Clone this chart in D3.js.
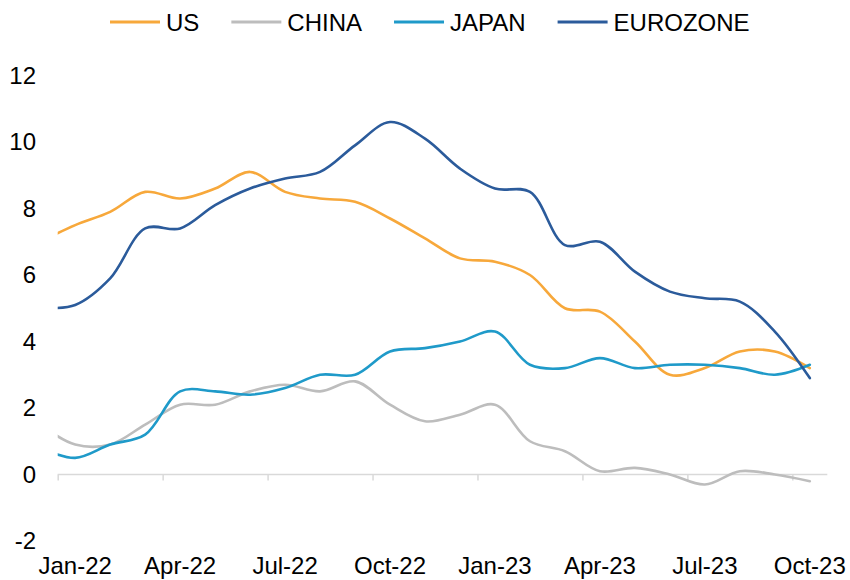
<!DOCTYPE html>
<html>
<head>
<meta charset="utf-8">
<script src="https://cdn.jsdelivr.net/npm/d3@7"></script>
<style>
  html, body { margin: 0; padding: 0; background: #fff; }
  svg { display: block; font-family: "Liberation Sans", Arial, sans-serif; }
</style>
</head>
<body>
<svg id="chart" width="850" height="580"></svg>
<script>
// Months (Dec-21 lies just outside the left edge of the plot and is clipped)
const months = ["Dec-21","Jan-22","Feb-22","Mar-22","Apr-22","May-22","Jun-22","Jul-22","Aug-22","Sep-22","Oct-22","Nov-22","Dec-22",
                "Jan-23","Feb-23","Mar-23","Apr-23","May-23","Jun-23","Jul-23","Aug-23","Sep-23","Oct-23"];
const tickLabels = ["Jan-22","Apr-22","Jul-22","Oct-22","Jan-23","Apr-23","Jul-23","Oct-23"];
const yTicks = [-2, 0, 2, 4, 6, 8, 10, 12];

const seriesNames = ["US", "CHINA", "JAPAN", "EUROZONE"];
const us       = [7.0, 7.5, 7.9, 8.5, 8.3, 8.6, 9.1, 8.5, 8.3, 8.2, 7.7, 7.1, 6.5, 6.4, 6.0, 5.0, 4.9, 4.0, 3.0, 3.2, 3.7, 3.7, 3.2];
const china    = [1.5, 0.9, 0.9, 1.5, 2.1, 2.1, 2.5, 2.7, 2.5, 2.8, 2.1, 1.6, 1.8, 2.1, 1.0, 0.7, 0.1, 0.2, 0.0, -0.3, 0.1, 0.0, -0.2];
const japan    = [0.8, 0.5, 0.9, 1.2, 2.5, 2.5, 2.4, 2.6, 3.0, 3.0, 3.7, 3.8, 4.0, 4.3, 3.3, 3.2, 3.5, 3.2, 3.3, 3.3, 3.2, 3.0, 3.3];
const eurozone = [5.0, 5.1, 5.9, 7.4, 7.4, 8.1, 8.6, 8.9, 9.1, 9.9, 10.6, 10.1, 9.2, 8.6, 8.5, 6.9, 7.0, 6.1, 5.5, 5.3, 5.2, 4.3, 2.9];

const colors = ["#F7A83B", "#BDBDBD", "#1F9AC9", "#2B5B9B"];
const seriesValues = [us, china, japan, eurozone];

(function () {
  const svg = d3.select("#chart");
  const pLeft = 57.7, pRight = 827.3, pTop = 75.5, pBottom = 541;
  const fs = 24;

  const nCats = 22;
  const x = d3.scaleLinear().domain([0, nCats]).range([pLeft, pRight]);
  const monthPos = i => x(i - 1 + 0.5);
  const y = d3.scaleLinear().domain([-2, 12]).range([pBottom, pTop]);

  svg.append("defs").append("clipPath").attr("id", "plotclip")
    .append("rect").attr("x", pLeft).attr("y", 0).attr("width", pRight - pLeft).attr("height", 580);

  const yAxis = d3.axisLeft(y).tickValues(yTicks).tickSize(0).tickPadding(0).tickFormat(d => String(d));
  const yg = svg.append("g").attr("transform", "translate(36,0)").call(yAxis);
  yg.select(".domain").remove();
  yg.selectAll("text").attr("font-size", fs).attr("fill", "#000")
    .attr("font-family", "Liberation Sans, Arial, sans-serif");

  const tickIdx = d3.range(0, nCats, 3);
  const xAxis = d3.axisBottom(x).tickValues(tickIdx).tickSize(6).tickFormat("");
  const xg = svg.append("g").attr("transform", `translate(0,${y(0)})`).call(xAxis);
  xg.select(".domain").attr("stroke", "#D9D9D9").attr("stroke-width", 1.5).attr("d", `M${pLeft},0H${pRight}`);
  xg.selectAll(".tick line").attr("stroke", "#D9D9D9").attr("stroke-width", 1.5);

  svg.append("g").selectAll("text").data(tickLabels).join("text")
    .attr("x", (d, i) => x(tickIdx[i] + 0.5))
    .attr("y", 574)
    .attr("text-anchor", "middle")
    .attr("font-size", fs)
    .attr("fill", "#000")
    .text(d => d);

  const line = d3.line()
    .x((d, i) => monthPos(i))
    .y(d => y(d))
    .curve(d3.curveCatmullRom.alpha(0.5));

  svg.append("g").attr("clip-path", "url(#plotclip)")
    .selectAll("path").data(seriesValues).join("path")
    .attr("d", d => line(d))
    .attr("fill", "none")
    .attr("stroke", (d, i) => colors[i])
    .attr("stroke-width", 2.6)
    .attr("stroke-linejoin", "round")
    .attr("stroke-linecap", "round");

  const lg = svg.append("g");
  let lx = 110;
  seriesNames.forEach((name, i) => {
    lg.append("line").attr("x1", lx).attr("x2", lx + 50).attr("y1", 22).attr("y2", 22)
      .attr("stroke", colors[i]).attr("stroke-width", 3);
    const t = lg.append("text").attr("x", lx + 56).attr("y", 22).attr("dy", "0.36em")
      .attr("font-size", fs).attr("fill", "#000").text(name);
    const w = t.node().getComputedTextLength();
    lx = lx + 56 + w + 32;
  });
})();
</script>
</body>
</html>
